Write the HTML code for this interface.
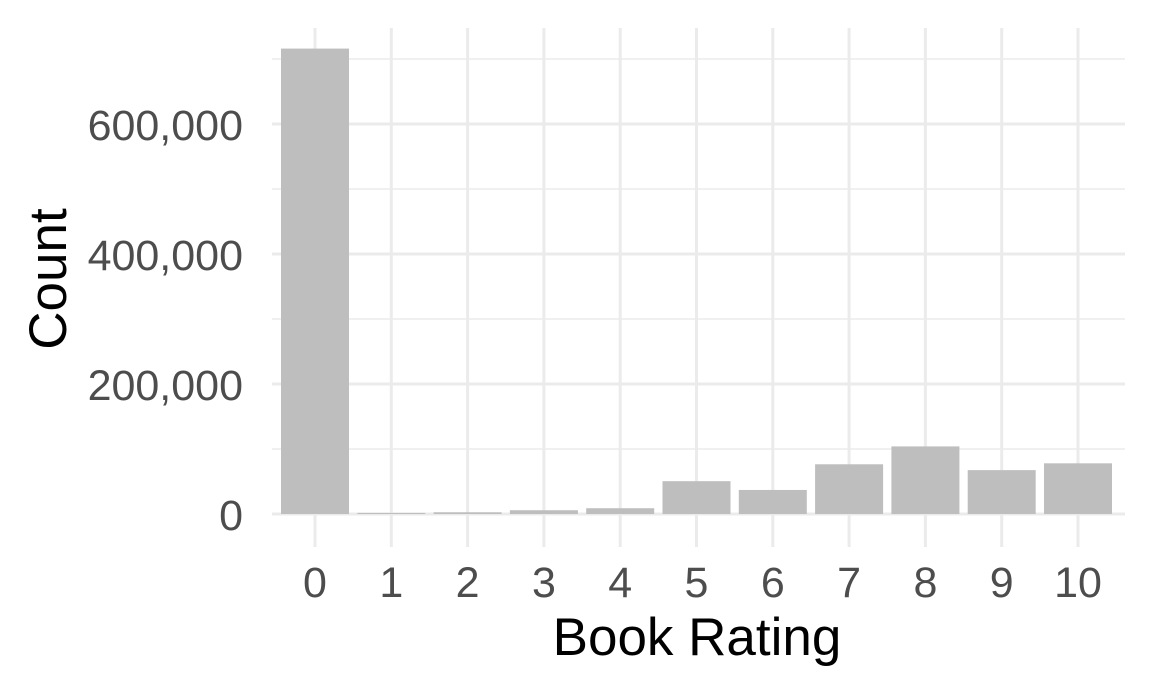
<!DOCTYPE html>
<html><head><meta charset="utf-8"><style>
html,body{margin:0;padding:0;background:#fff;}
svg{display:block;font-family:"Liberation Sans",Arial,sans-serif;}
</style></head><body>
<svg id="chart" width="1152" height="691" viewBox="0 0 1152 691">
<g id="grid"></g>
<g id="bars"></g>
<g id="yticks"></g>
<g id="xticks"></g>
<text x="697" y="655" text-anchor="middle" font-size="53" fill="#000">Book Rating</text>
<text transform="translate(66,279) rotate(-90)" text-anchor="middle" font-size="53" fill="#000">Count</text>
</svg>
<script>
const categories = ["0","1","2","3","4","5","6","7","8","9","10"];
const counts = [716000, 1700, 2700, 5800, 8900, 50500, 37000, 76500, 104000, 67500, 78000];
const yTickValues = [0, 200000, 400000, 600000];
const yTickLabels = ["0","200,000","400,000","600,000"];
const yMinorValues = [100000, 300000, 500000, 700000];

const NS = "http://www.w3.org/2000/svg";
const plotLeft = 272, plotRight = 1125;
const x = i => 315 + i * 76.3;
const y = v => 514 - v * 0.00065;
const bw = 68;
function mk(tag, attrs, parent) {
  const e = document.createElementNS(NS, tag);
  for (const k in attrs) e.setAttribute(k, attrs[k]);
  parent.appendChild(e);
  return e;
}
const grid = document.getElementById("grid");
yMinorValues.forEach(v => {
  const l = mk("line", {x1: plotLeft, x2: plotRight, y1: y(v), y2: y(v), stroke: "#ebebeb", "stroke-width": 1.5}, grid);
  
  
});
yTickValues.forEach(v => {
  const l = mk("line", {x1: plotLeft, x2: plotRight, y1: y(v), y2: y(v), stroke: "#ebebeb", "stroke-width": 3}, grid);
  
  
});
categories.forEach((c, i) => {
  const l = mk("line", {x1: x(i), x2: x(i), y1: 28, y2: 547, stroke: "#ebebeb", "stroke-width": 3}, grid);
  
  
});
const bars = document.getElementById("bars");
counts.forEach((v, i) => {
  const r = mk("rect", {x: x(i) - bw / 2, y: y(v), width: bw, height: 514 - y(v), fill: "#bebebe"}, bars);
  
  
});
const yt = document.getElementById("yticks");
yTickValues.forEach((v, i) => {
  const t = mk("text", {x: 243, y: y(v) + 16, "text-anchor": "end", "font-size": 43, fill: "#4d4d4d"}, yt);
  t.textContent = yTickLabels[i];
  
  
});
const xt = document.getElementById("xticks");
categories.forEach((c, i) => {
  const t = mk("text", {x: x(i), y: 597, "text-anchor": "middle", "font-size": 43, fill: "#4d4d4d"}, xt);
  t.textContent = c;
  
  
});
</script>
</body></html>
